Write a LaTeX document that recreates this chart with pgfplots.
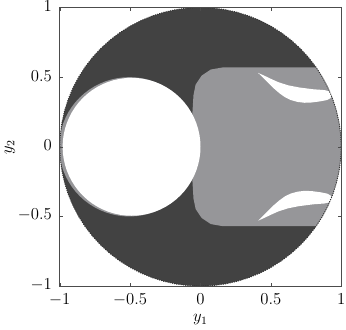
\documentclass[border=0pt]{standalone}
\usepackage{pgfplots}
\usepackage{pgfplotstable}
\pgfplotsset{compat=1.18}
\definecolor{regiongray}{rgb}{0.59,0.59,0.60}
\definecolor{dotdark}{rgb}{0.26,0.26,0.26}
\pgfplotstableread{
deg c s
0 1 0
5 0.9962 0.0872
10 0.9848 0.1736
15 0.9659 0.2588
20 0.9397 0.3420
25 0.9063 0.4226
30 0.8660 0.5000
35 0.8192 0.5736
40 0.7660 0.6428
45 0.7071 0.7071
50 0.6428 0.7660
55 0.5736 0.8192
60 0.5000 0.8660
65 0.4226 0.9063
70 0.3420 0.9397
75 0.2588 0.9659
80 0.1736 0.9848
85 0.0872 0.9962
90 0 1
95 -0.0872 0.9962
100 -0.1736 0.9848
105 -0.2588 0.9659
110 -0.3420 0.9397
115 -0.4226 0.9063
120 -0.5 0.8660
125 -0.5736 0.8192
130 -0.6428 0.7660
135 -0.7071 0.7071
140 -0.7660 0.6428
145 -0.8192 0.5736
150 -0.8660 0.5
155 -0.9063 0.4226
160 -0.9397 0.3420
165 -0.9659 0.2588
170 -0.9848 0.1736
175 -0.9962 0.0872
180 -1 0
185 -0.9962 -0.0872
190 -0.9848 -0.1736
195 -0.9659 -0.2588
200 -0.9397 -0.3420
205 -0.9063 -0.4226
210 -0.8660 -0.5
215 -0.8192 -0.5736
220 -0.7660 -0.6428
225 -0.7071 -0.7071
230 -0.6428 -0.7660
235 -0.5736 -0.8192
240 -0.5 -0.8660
245 -0.4226 -0.9063
250 -0.3420 -0.9397
255 -0.2588 -0.9659
260 -0.1736 -0.9848
265 -0.0872 -0.9962
270 0 -1
275 0.0872 -0.9962
280 0.1736 -0.9848
285 0.2588 -0.9659
290 0.3420 -0.9397
295 0.4226 -0.9063
300 0.5 -0.8660
305 0.5736 -0.8192
310 0.6428 -0.7660
315 0.7071 -0.7071
320 0.7660 -0.6428
325 0.8192 -0.5736
330 0.8660 -0.5
335 0.9063 -0.4226
340 0.9397 -0.3420
345 0.9659 -0.2588
350 0.9848 -0.1736
355 0.9962 -0.0872
360 1 0
}\unitcircle
\begin{document}
\begin{tikzpicture}
\begin{axis}[
  scale only axis,
  width=202pt, height=200pt,
  xmin=-1, xmax=1, ymin=-1, ymax=1,
  xtick={-1,-0.5,0,0.5,1},
  ytick={-1,-0.5,0,0.5,1},
  tick align=inside,
  major tick length=2.5pt,
  ticklabel style={font=\large, inner sep=0.5pt},
  xticklabel style={yshift=-5pt},
  yticklabel style={xshift=-5pt, yshift=1pt},
  label style={font=\large},
  xlabel={$y_1$}, ylabel={$y_2$},
  xlabel style={yshift=-2pt},
  ylabel style={yshift=-2pt},
  axis on top,
  axis line style={line width=0.5pt, black!70},
  tick style={black!70},
]
% dense scatter region (unit disk)
\addplot[draw=none, fill=dotdark] table[x=c, y=s] {\unitcircle};
% thin gray rim left of the hole
\addplot[draw=none, fill=regiongray] table[x expr=-0.505+0.50*\thisrow{c}, y expr=0.50*\thisrow{s}] {\unitcircle};
% gray region
\addplot[draw=none, fill=regiongray] coordinates {
(0.16,0.57) (0.8216,0.57) (0.8660,0.5) (0.9063,0.4226) (0.9397,0.3420) (0.9659,0.2588) (0.9848,0.1736) (0.9962,0.0872) (1,0)
(0.9962,-0.0872) (0.9848,-0.1736) (0.9659,-0.2588) (0.9397,-0.3420) (0.9063,-0.4226) (0.8660,-0.5) (0.8216,-0.57)
(0.16,-0.57) (0.0735,-0.5548) (0.0086,-0.5114) (-0.0348,-0.4465) (-0.05,-0.37) (-0.06,-0.2) (-0.07,0)
(-0.06,0.2) (-0.05,0.37) (-0.0348,0.4465) (0.0086,0.5114) (0.0735,0.5548) (0.16,0.57)
};
% white hole
\addplot[draw=none, fill=white] table[x expr=-0.49+0.49*\thisrow{c}, y expr=0.495*\thisrow{s}] {\unitcircle};
% white crescents
\addplot[draw=none, fill=white] coordinates {
(0.41,0.53) (0.45,0.512) (0.50,0.488) (0.55,0.465) (0.62,0.442) (0.70,0.426) (0.80,0.413) (0.88,0.407) (0.91,0.400) (0.93,0.375) (0.925,0.350)
(0.90,0.336) (0.85,0.326) (0.79,0.318) (0.74,0.316) (0.69,0.322) (0.64,0.336) (0.60,0.356) (0.56,0.385) (0.52,0.42) (0.48,0.46) (0.44,0.50) (0.41,0.53)
};
\addplot[draw=none, fill=white] coordinates {
(0.41,-0.53) (0.45,-0.512) (0.50,-0.488) (0.55,-0.465) (0.62,-0.442) (0.70,-0.426) (0.80,-0.413) (0.88,-0.407) (0.91,-0.400) (0.93,-0.375) (0.925,-0.350)
(0.90,-0.336) (0.85,-0.326) (0.79,-0.318) (0.74,-0.316) (0.69,-0.322) (0.64,-0.336) (0.60,-0.356) (0.56,-0.385) (0.52,-0.42) (0.48,-0.46) (0.44,-0.50) (0.41,-0.53)
};
% dotted disk boundary
\addplot[black!80, line width=0.7pt, dash pattern=on 0.7pt off 0.9pt] table[x=c, y=s] {\unitcircle};
\end{axis}
\end{tikzpicture}
\end{document}
